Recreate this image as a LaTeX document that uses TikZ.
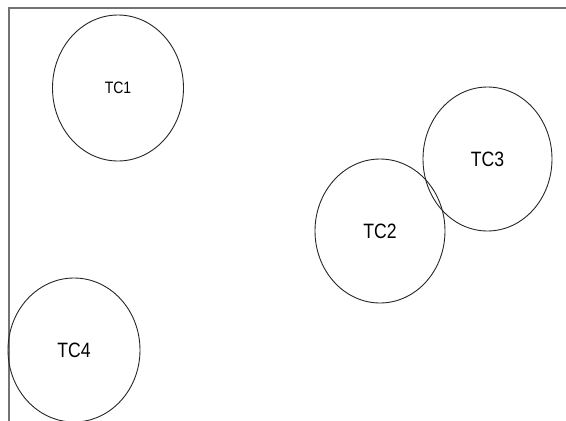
\documentclass[tikz,border=0pt]{standalone}
\usepackage{fontspec}
\setmainfont{Liberation Sans}
\usetikzlibrary{shapes.geometric}
\newcommand{\tallt}[1]{\scalebox{1}[1.18]{#1}}
\begin{document}
\begin{tikzpicture}[x=1pt,y=-1pt,
  tc/.style={draw=black!85, line width=0.9pt, ellipse, inner sep=0pt},
  bigtxt/.style={font=\fontsize{17.6}{19}\selectfont},
  smalltxt/.style={font=\fontsize{14}{16}\selectfont},
  frameline/.style={draw=black!55, line width=1.5pt}]
\useasboundingbox (0,0) rectangle (566,421);
\coordinate (fl) at (9,421);
\coordinate (fc) at (9,8);
\coordinate (fr) at (566,8);
\draw[frameline] (fl) -- (fc) -- (fr);
\node[tc, smalltxt, minimum width=131pt, minimum height=146pt] (tc1) at (118,88) {\tallt{TC1}};
\node[tc, bigtxt, minimum width=130pt, minimum height=144pt] (tc2) at (380,231) {\tallt{TC2}};
\node[tc, bigtxt, minimum width=129pt, minimum height=144pt] (tc3) at (487.5,159) {\tallt{TC3}};
\node[tc, bigtxt, minimum width=132pt, minimum height=144pt] (tc4) at (74,350) {\tallt{TC4}};
\end{tikzpicture}
\end{document}
